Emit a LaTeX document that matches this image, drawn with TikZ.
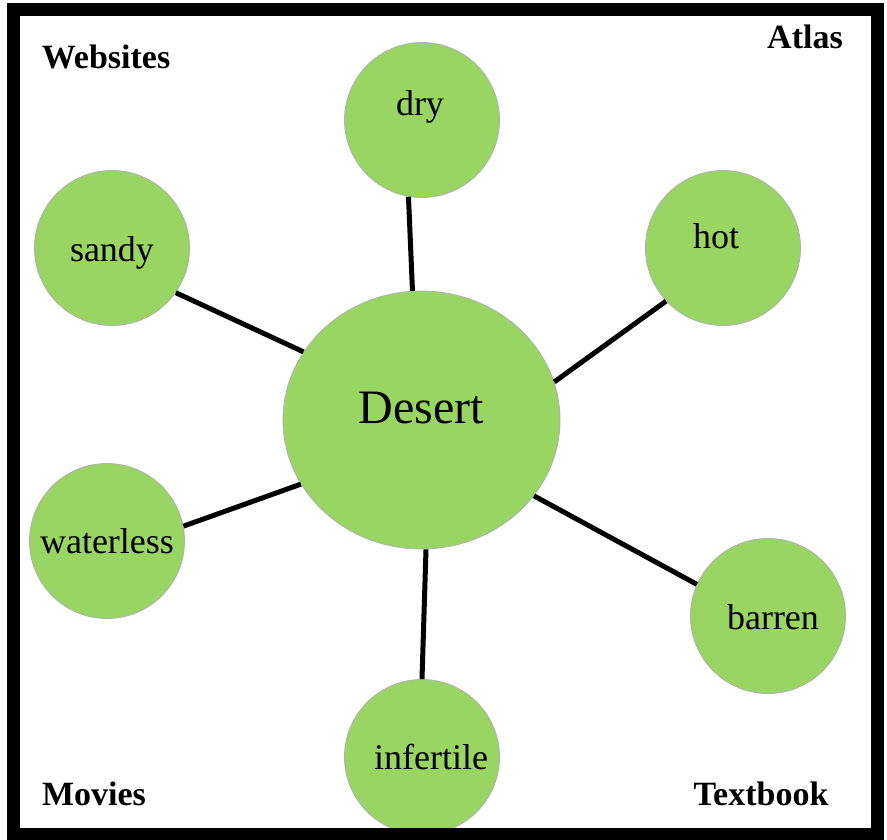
\documentclass[tikz,border=0pt]{standalone}
\usepackage{fontspec}
\setmainfont{Liberation Serif}
\usetikzlibrary{shapes.geometric}
\definecolor{leaf}{HTML}{98D562}
\definecolor{rim}{HTML}{B0B0B0}
\tikzset{
  bubble/.style={circle, fill=leaf, draw=rim, line width=0.8pt, minimum size=155pt, inner sep=0pt},
  hub/.style={ellipse, fill=leaf, draw=rim, line width=0.8pt, minimum width=277pt, minimum height=258pt, inner sep=0pt},
  word/.style={font=\fontsize{36}{40}\selectfont},
  source/.style={font=\fontsize{34}{38}\selectfont\bfseries},
  link/.style={line width=5pt, black},
  frame/.style={line width=13pt, black}
}
\begin{document}
\begin{tikzpicture}[x=1pt, y=-1pt]
\useasboundingbox (0,0) rectangle (887,839);
\fill[white] (0,0) rectangle (887,839);
% nodes
\node[hub] (desert) at (421.5,420) {};
\node[bubble] (dry) at (422,120) {};
\node[bubble] (hot) at (723,248) {};
\node[bubble] (sandy) at (112,248) {};
\node[bubble] (waterless) at (107,541) {};
\node[bubble] (barren) at (768,616) {};
\node[bubble] (infertile) at (422,757) {};
% connectors
\draw[link] (dry.260) -- (desert.94);
\draw[link] (hot.223) -- (desert.16);
\draw[link] (sandy.325) -- (desert.150);
\draw[link] (waterless.11) -- (desert.208);
\draw[link] (barren.156) -- (desert.326);
\draw[link] (infertile.90) -- (desert.272);
% texts
\node[font=\fontsize{48}{52}\selectfont] (tdesert) at (421,408) {Desert};
\node[word] (tdry) at (420,107) {dry};
\node[word] (thot) at (716,236) {hot};
\node[word] (tsandy) at (112,253) {sandy};
\node[word] (twaterless) at (107,541) {waterless};
\node[word] (tbarren) at (773,617) {barren};
\node[word] (tinfertile) at (431,757) {infertile};
% frame
\draw[frame] (13.5,9.5) rectangle (877,834);
% sources
\node[source] (websites) at (106,57) {Websites};
\node[source] (atlas) at (805,37) {Atlas};
\node[source] (movies) at (94,794) {Movies};
\node[source] (textbook) at (761,794) {Textbook};
\end{tikzpicture}
\end{document}
